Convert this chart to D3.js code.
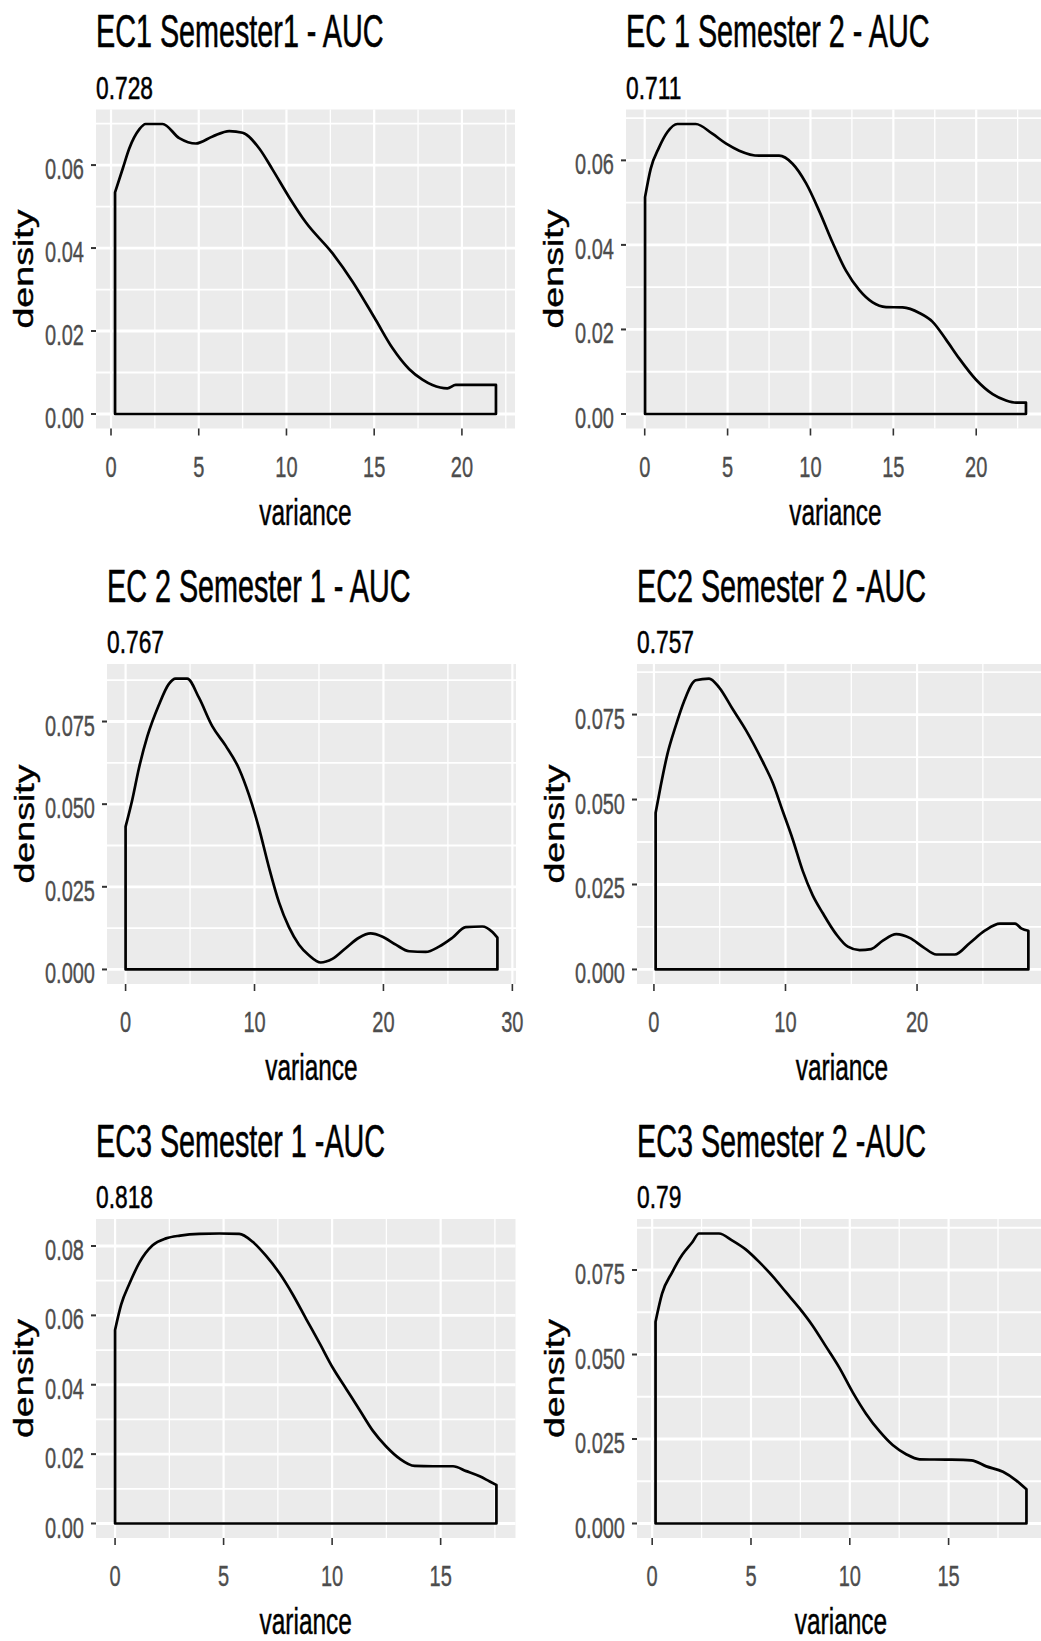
<!DOCTYPE html>
<html>
<head>
<meta charset="utf-8">
<script src="https://cdn.jsdelivr.net/npm/d3@7"></script>
<style>
  html, body { margin: 0; padding: 0; background: #ffffff; }
  svg { display: block; }
</style>
</head>
<body>
<div id="chart"></div>
<script>
// ---- Panel text ----
const panelTitles = [
  "EC1 Semester1 - AUC", "EC 1 Semester 2 - AUC",
  "EC 2 Semester 1 - AUC", "EC2 Semester 2 -AUC",
  "EC3 Semester 1 -AUC", "EC3 Semester 2 -AUC"
];
const aucLabels = ["0.728", "0.711", "0.767", "0.757", "0.818", "0.79"];

// ---- Density estimates (variance -> density) ----
const ec1s1Variance = [0.23,0.68,1.04,1.61,1.97,2.94,3.89,4.84,5.79,6.74,7.5,8.45,9.21,10.16,11.1,12.63,13.77,15.1,16.04,17.0,17.75,18.32,19.17,19.65,21.94];
const ec1s1Density  = [0.0534,0.0593,0.064,0.0686,0.0699,0.0699,0.0665,0.0652,0.0669,0.0682,0.0678,0.064,0.0589,0.0522,0.0462,0.0387,0.0319,0.0226,0.0159,0.0108,0.0083,0.007,0.0062,0.007,0.007];

const ec1s2Variance = [0.02,0.36,0.86,1.37,1.97,3.08,4.08,4.89,5.7,6.9,8.11,8.92,9.73,10.53,11.34,12.14,12.95,13.75,14.56,15.56,16.57,17.37,18.18,18.98,19.99,20.99,21.8,22.4,23.0];
const ec1s2Density  = [0.0513,0.058,0.063,0.0667,0.0686,0.0686,0.0663,0.064,0.0623,0.0611,0.0611,0.0592,0.0546,0.048,0.0405,0.0339,0.0293,0.0264,0.0253,0.0252,0.0239,0.0218,0.0176,0.0131,0.0081,0.0047,0.0032,0.0027,0.0027];

const ec2s1Variance = [0,0.51,1.03,1.68,2.58,3.36,3.88,4.78,5.69,6.72,7.76,8.79,9.57,10.35,11.12,11.9,12.67,13.45,14.22,15.13,16.04,17.07,18.1,19.0,19.93,20.96,21.99,23.28,24.31,25.35,26.38,27.67,28.45,28.84];
const ec2s1Density  = [0.0432,0.0512,0.0608,0.0704,0.08,0.0864,0.088,0.088,0.0822,0.0736,0.0677,0.0608,0.0528,0.0427,0.0309,0.0203,0.0128,0.0075,0.0043,0.0021,0.0032,0.0064,0.0096,0.0109,0.0099,0.0075,0.0055,0.0053,0.0069,0.0096,0.0128,0.013,0.0113,0.0096];

const ec2s2Variance = [0.13,0.51,1.02,1.65,2.28,3.17,4.19,4.95,5.97,6.98,8.26,9.02,9.78,10.54,11.31,12.07,12.83,13.85,14.74,15.63,16.51,17.4,18.42,19.44,20.46,21.47,22.87,24.01,25.15,26.3,27.44,27.95,28.46];
const ec2s2Density  = [0.0461,0.0539,0.0633,0.0716,0.0788,0.0851,0.0856,0.083,0.0767,0.0705,0.0612,0.055,0.0467,0.0384,0.029,0.0218,0.0166,0.0104,0.0067,0.0057,0.006,0.0085,0.0104,0.0093,0.0066,0.0044,0.0044,0.0078,0.0114,0.0135,0.0135,0.012,0.0114];

const ec3s1Variance = [0,0.28,0.66,1.12,1.73,2.35,3.0,3.88,4.8,5.72,6.34,6.95,7.57,8.18,8.8,9.42,10.03,10.65,11.26,11.88,12.49,13.11,13.8,14.64,15.57,16.18,16.8,17.26,17.57];
const ec3s1Density  = [0.0558,0.0631,0.0691,0.0752,0.0802,0.0822,0.083,0.0835,0.0836,0.0835,0.0812,0.0772,0.0722,0.0661,0.059,0.052,0.0449,0.0388,0.0328,0.0267,0.0222,0.0187,0.0166,0.0165,0.0165,0.0151,0.0136,0.0121,0.0111];

const ec3s2Variance = [0.17,0.5,1.01,1.52,2.03,2.37,3.38,4.06,4.73,5.41,6.09,6.76,7.44,8.11,8.79,9.47,10.15,10.82,11.5,12.17,12.85,13.53,14.88,16.15,16.91,17.75,18.43,18.94];
const ec3s2Density  = [0.0597,0.068,0.0743,0.0795,0.0832,0.0858,0.0858,0.0837,0.0811,0.0774,0.0732,0.0685,0.0638,0.0586,0.0524,0.0461,0.0388,0.0325,0.0273,0.0232,0.0205,0.019,0.0189,0.0187,0.0169,0.0153,0.0127,0.0101];

// ---- Axis breaks ----
const xBreaks = [[0,5,10,15,20],[0,5,10,15,20],[0,10,20,30],[0,10,20],[0,5,10,15],[0,5,10,15]];
const yBreaks = [[0,0.02,0.04,0.06],[0,0.02,0.04,0.06],[0,0.025,0.05,0.075],[0,0.025,0.05,0.075],[0,0.02,0.04,0.06,0.08],[0,0.025,0.05,0.075]];
const yDecimals = [2, 2, 3, 3, 2, 3];

const variances = [ec1s1Variance, ec1s2Variance, ec2s1Variance, ec2s2Variance, ec3s1Variance, ec3s2Variance];
const densities = [ec1s1Density, ec1s2Density, ec2s1Density, ec2s2Density, ec3s1Density, ec3s2Density];

// ---- Layout (panel background rectangles, px) ----
const W = 1041, H = 1641;
const boxes = [
  {l: 96,  r: 515,  t: 109.5, b: 428.5},
  {l: 626, r: 1045, t: 109.5, b: 428.5},
  {l: 107, r: 516,  t: 664,   b: 984},
  {l: 637, r: 1047, t: 664,   b: 984},
  {l: 96,  r: 515.5,t: 1219,  b: 1538},
  {l: 637, r: 1045, t: 1219,  b: 1538}
];

const FONT = "'Liberation Sans', Arial, Helvetica, sans-serif";
const style = {
  title:    {size: 46, sx: 0.625, fill: "#000000", sw: 0.6},
  subtitle: {size: 31, sx: 0.735, fill: "#000000", sw: 0.5},
  tick:     {size: 30, sx: 0.667, fill: "#4D4D4D", sw: 0.4},
  axis:     {size: 37.6, sx: 0.65, fill: "#000000", sw: 0.5}
};

const svg = d3.select("#chart").append("svg")
  .attr("width", W).attr("height", H)
  .attr("viewBox", `0 0 ${W} ${H}`)
  .style("font-family", FONT);

svg.append("rect").attr("width", W).attr("height", H).attr("fill", "#ffffff");

// Text drawn with a horizontal squeeze (tall, narrow lettering)
function label(g, s, x, y, st, anchor) {
  return g.append("text")
    .attr("transform", `translate(${x},${y}) scale(${st.sx},1)`)
    .attr("text-anchor", anchor || "start")
    .attr("font-size", st.size)
    .attr("fill", st.fill)
    .attr("stroke", st.fill)
    .attr("stroke-width", st.sw)
    .text(s);
}

function expand(lo, hi) {
  const pad = (hi - lo) * 0.05;
  return [lo - pad, hi + pad];
}

function midpoints(breaks, domain) {
  const step = breaks[1] - breaks[0];
  const out = [];
  for (let v = breaks[0] - step / 2; v <= domain[1]; v += step) {
    if (v >= domain[0]) out.push(v);
  }
  return out;
}

boxes.forEach((box, i) => {
  const xs = variances[i], ys = densities[i];
  const pts = xs.map((x, k) => ({x, y: ys[k]}));

  const x = d3.scaleLinear()
    .domain(expand(d3.min(xs), d3.max(xs)))
    .range([box.l, box.r]);
  const y = d3.scaleLinear()
    .domain(expand(0, d3.max(ys)))
    .range([box.b, box.t]);

  const g = svg.append("g").attr("class", "panel");

  // panel background
  g.append("rect")
    .attr("x", box.l).attr("y", box.t)
    .attr("width", box.r - box.l).attr("height", box.b - box.t)
    .attr("fill", "#EBEBEB");

  // minor grid
  const xMinor = midpoints(xBreaks[i], x.domain());
  const yMinor = midpoints(yBreaks[i], y.domain());
  g.selectAll(null).data(xMinor).enter().append("line")
    .attr("x1", d => x(d)).attr("x2", d => x(d))
    .attr("y1", box.t).attr("y2", box.b)
    .attr("stroke", "#ffffff").attr("stroke-width", 1.3);
  g.selectAll(null).data(yMinor).enter().append("line")
    .attr("x1", box.l).attr("x2", box.r)
    .attr("y1", d => y(d)).attr("y2", d => y(d))
    .attr("stroke", "#ffffff").attr("stroke-width", 1.8);

  // major grid
  g.selectAll(null).data(xBreaks[i]).enter().append("line")
    .attr("x1", d => x(d)).attr("x2", d => x(d))
    .attr("y1", box.t).attr("y2", box.b)
    .attr("stroke", "#ffffff").attr("stroke-width", 2.2);
  g.selectAll(null).data(yBreaks[i]).enter().append("line")
    .attr("x1", box.l).attr("x2", box.r)
    .attr("y1", d => y(d)).attr("y2", d => y(d))
    .attr("stroke", "#ffffff").attr("stroke-width", 2.8);

  // density outline (closed down to zero at both ends)
  const area = d3.area()
    .x(d => x(d.x))
    .y0(y(0))
    .y1(d => y(d.y))
    .curve(d3.curveMonotoneX);
  g.append("path")
    .datum(pts)
    .attr("d", area)
    .attr("fill", "none")
    .attr("stroke", "#000000")
    .attr("stroke-width", 2.7)
    .attr("stroke-linejoin", "round");

  // y axis ticks + labels
  const fmt = d3.format(`.${yDecimals[i]}f`);
  yBreaks[i].forEach(v => {
    g.append("line")
      .attr("x1", box.l - 5).attr("x2", box.l)
      .attr("y1", y(v)).attr("y2", y(v))
      .attr("stroke", "#333333").attr("stroke-width", 2);
    label(g, fmt(v), box.l - 12, y(v) + 14, style.tick, "end");
  });

  // x axis ticks + labels
  xBreaks[i].forEach(v => {
    g.append("line")
      .attr("x1", x(v)).attr("x2", x(v))
      .attr("y1", box.b).attr("y2", box.b + 7)
      .attr("stroke", "#333333").attr("stroke-width", 1.6);
    label(g, String(v), x(v), box.b + 48, style.tick, "middle");
  });

  // axis titles
  label(g, "variance", (box.l + box.r) / 2, box.b + 96, style.axis, "middle");
  const longLabels = yDecimals[i] === 3;
  g.append("text")
    .attr("transform", `translate(${box.l - (longLabels ? 73 : 63)},${(box.t + box.b) / 2}) rotate(-90) scale(1,0.75)`)
    .attr("text-anchor", "middle")
    .attr("font-size", style.axis.size)
    .attr("fill", style.axis.fill)
    .attr("stroke", style.axis.fill)
    .attr("stroke-width", style.axis.sw)
    .text("density");

  // title and AUC subtitle
  label(g, panelTitles[i], box.l, box.t - 62.5, style.title, "start");
  label(g, aucLabels[i], box.l, box.t - 11, style.subtitle, "start");
});
</script>
</body>
</html>
